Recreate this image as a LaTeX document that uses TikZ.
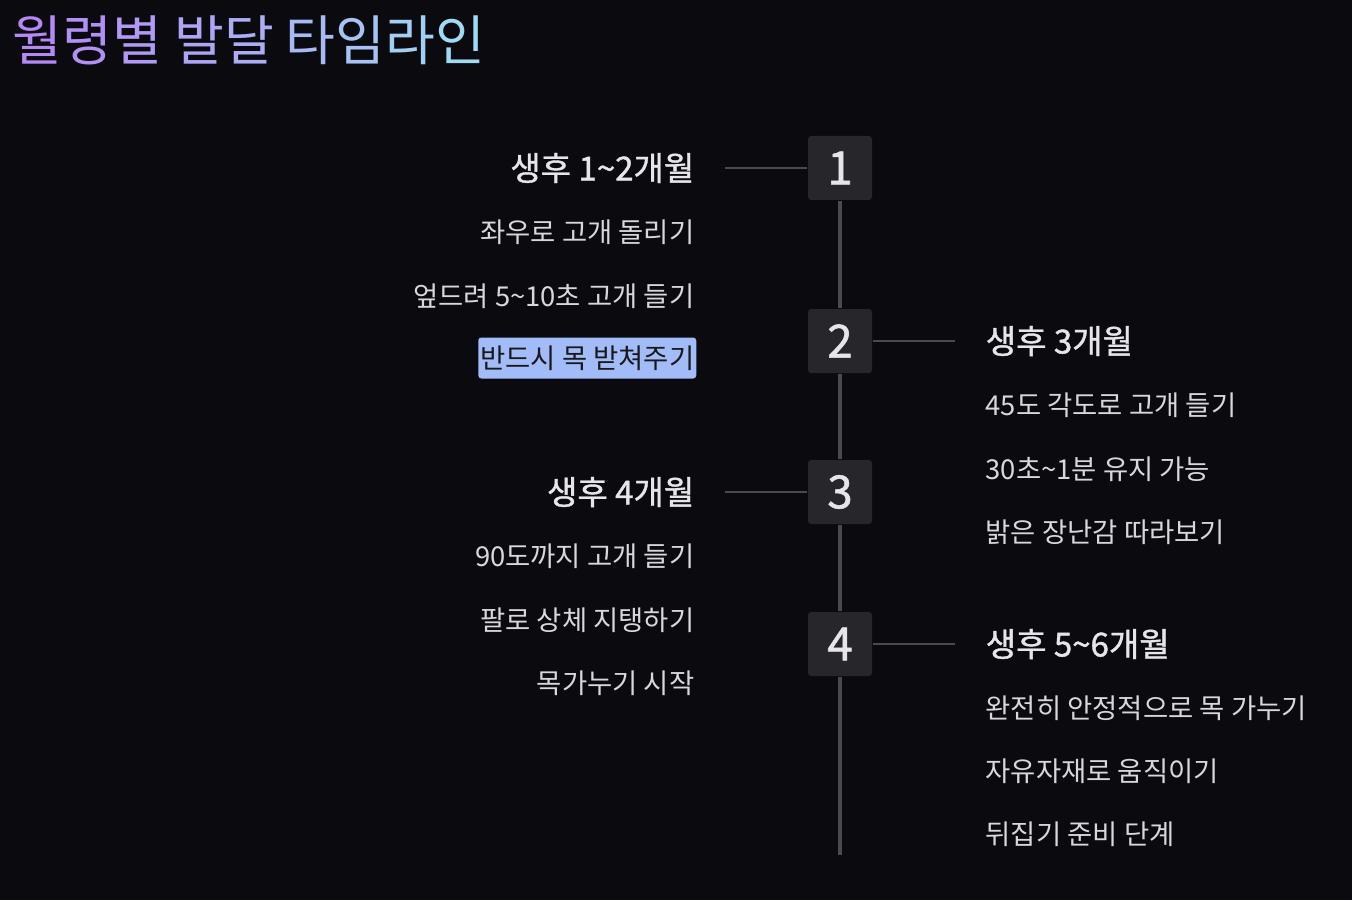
\documentclass[tikz,border=0pt]{standalone}
\usepackage{fontspec}
\setmainfont{Noto Sans CJK KR}
\newfontfamily\midfont{Noto Sans CJK KR}[FakeBold=1.2]
\usetikzlibrary{positioning}

\definecolor{bgdark}{HTML}{0A0A0F}
\definecolor{boxfill}{HTML}{27272B}
\definecolor{linegray}{HTML}{4A4A50}
\definecolor{headtxt}{HTML}{E8E4EC}
\definecolor{bodytxt}{HTML}{DAD6DF}
\definecolor{markblue}{HTML}{A2BCF9}
\definecolor{titleA}{HTML}{B489F6}
\definecolor{titleB}{HTML}{9FDBF4}

% one title syllable in a gradient step
\newcommand{\gsyl}[2]{{\color{titleB!#1!titleA}#2}}

\begin{document}
\begin{tikzpicture}[
  every node/.style={inner sep=0pt},
  title/.style={font=\fontsize{15.4}{17}\selectfont, anchor=west},
  month/.style={rectangle, rounded corners=0.9pt, fill=boxfill,
                minimum width=0.64cm, minimum height=0.64cm,
                text=headtxt, font=\midfont\fontsize{13}{14}\selectfont},
  headl/.style={font=\midfont\fontsize{9.4}{10}\selectfont, text=headtxt, anchor=east},
  headr/.style={headl, anchor=west},
  iteml/.style={font=\fontsize{7.8}{9}\selectfont, text=bodytxt, anchor=east},
  itemr/.style={iteml, anchor=west},
  marked/.style={iteml, fill=markblue, text=black!90, rounded corners=0.9pt,
                 inner xsep=0.02cm, minimum height=0.41cm},
  spine/.style={draw=linegray, line width=0.95pt},
  tick/.style={draw=linegray, line width=0.8pt},
]

%% ── Canvas ─────────────────────────────────────────────
\fill[bgdark] (0,0) rectangle (13.52,9.00);
\useasboundingbox (0,0) rectangle (13.52,9.00);

%% ── Column positions ──────────────────────────────────
\def\tx{8.40}   % timeline x
\def\lx{6.95}   % left text edge
\def\rx{9.85}   % right text edge

%% ── Title ─────────────────────────────────────────────
\node[title] (ttl) at (0.12,8.60)
  {\gsyl{0}{월}\gsyl{10}{령}\gsyl{20}{별} \gsyl{35}{발}\gsyl{45}{달}
   \gsyl{60}{타}\gsyl{72}{임}\gsyl{86}{라}\gsyl{100}{인}};

%% ── Month boxes (top → bottom) ─────────────────────────
\node[month] (m1) at (\tx,7.32) {1};
\node[month] (m2) at (\tx,5.59) {2};
\node[month] (m3) at (\tx,4.08) {3};
\node[month] (m4) at (\tx,2.56) {4};
\coordinate (tend) at (\tx,0.45);

%% ── Left side: 1~2 months ─────────────────────────────
\node[headl] (h1)  at (\lx,7.32) {생후 1\textasciitilde2개월};
\node[iteml] (i11) at (\lx,6.68) {좌우로 고개 돌리기};
\node[iteml] (i12) at (\lx,6.04) {엎드려 5\textasciitilde10초 고개 들기};
\node[marked] (i13) at (6.97,5.42) {반드시 목 받쳐주기};

%% ── Right side: 3 months ──────────────────────────────
\node[headr] (h2)  at (\rx,5.59) {생후 3개월};
\node[itemr] (i21) at (\rx,4.95) {45도 각도로 고개 들기};
\node[itemr] (i22) at (\rx,4.31) {30초\textasciitilde1분 유지 가능};
\node[itemr] (i23) at (\rx,3.68) {밝은 장난감 따라보기};

%% ── Left side: 4 months ───────────────────────────────
\node[headl] (h3)  at (\lx,4.08) {생후 4개월};
\node[iteml] (i31) at (\lx,3.44) {90도까지 고개 들기};
\node[iteml] (i32) at (\lx,2.80) {팔로 상체 지탱하기};
\node[iteml] (i33) at (\lx,2.17) {목가누기 시작};

%% ── Right side: 5~6 months ────────────────────────────
\node[headr] (h4)  at (\rx,2.56) {생후 5\textasciitilde6개월};
\node[itemr] (i41) at (\rx,1.92) {완전히 안정적으로 목 가누기};
\node[itemr] (i42) at (\rx,1.29) {자유자재로 움직이기};
\node[itemr] (i43) at (\rx,0.66) {뒤집기 준비 단계};

%% ── Spine ─────────────────────────────────────────────
\draw[spine] (m1.south) -- (m2.north);
\draw[spine] (m2.south) -- (m3.north);
\draw[spine] (m3.south) -- (m4.north);
\draw[spine] (m4.south) -- (tend);

%% ── Ticks to headings ─────────────────────────────────
\coordinate (t1) at (7.25,7.32);
\coordinate (t2) at (9.55,5.59);
\coordinate (t3) at (7.25,4.08);
\coordinate (t4) at (9.55,2.56);
\draw[tick] (m1.west) -- (t1);
\draw[tick] (m2.east) -- (t2);
\draw[tick] (m3.west) -- (t3);
\draw[tick] (m4.east) -- (t4);

\end{tikzpicture}
\end{document}
